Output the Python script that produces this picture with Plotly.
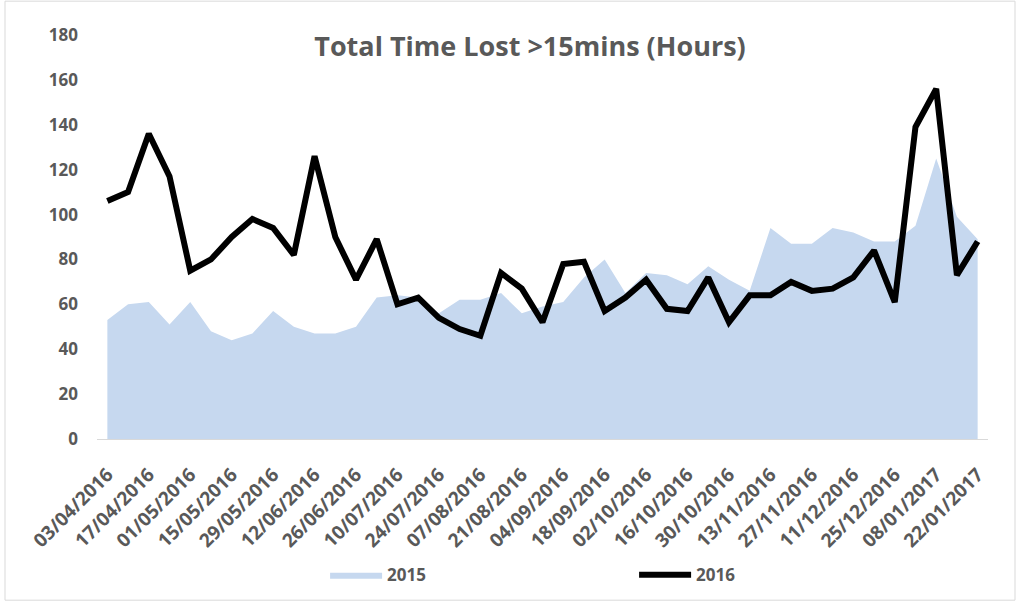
import plotly.graph_objects as go

dates = ["03/04/2016", "10/04/2016", "17/04/2016", "24/04/2016", "01/05/2016", "08/05/2016",
         "15/05/2016", "22/05/2016", "29/05/2016", "05/06/2016", "12/06/2016", "19/06/2016",
         "26/06/2016", "03/07/2016", "10/07/2016", "17/07/2016", "24/07/2016", "31/07/2016",
         "07/08/2016", "14/08/2016", "21/08/2016", "28/08/2016", "04/09/2016", "11/09/2016",
         "18/09/2016", "25/09/2016", "02/10/2016", "09/10/2016", "16/10/2016", "23/10/2016",
         "30/10/2016", "06/11/2016", "13/11/2016", "20/11/2016", "27/11/2016", "04/12/2016",
         "11/12/2016", "18/12/2016", "25/12/2016", "01/01/2017", "08/01/2017", "15/01/2017",
         "22/01/2017"]

tick_labels = dates[::2]

values_2015 = [53, 60, 61, 51, 61, 48, 44, 47, 57, 50, 47, 47, 50, 63, 64, 63, 56, 62,
               62, 65, 56, 59, 61, 72, 80, 65, 74, 73, 69, 77, 71, 66, 94, 87, 87, 94,
               92, 88, 88, 95, 125, 99, 89]

values_2016 = [106, 110, 136, 117, 75, 80, 90, 98, 94, 82, 126, 90, 71, 89, 60, 63, 54,
               49, 46, 74, 67, 52, 78, 79, 57, 63, 71, 58, 57, 72, 52, 64, 64, 70, 66,
               67, 72, 84, 61, 139, 156, 73, 88]

font_family = "'Open Sans', sans-serif"
grey = "#595959"

fig = go.Figure()
fig.add_trace(go.Scatter(
    x=dates, y=values_2015, name="<b>2015</b>", mode="lines",
    fill="tozeroy", fillcolor="#C6D8EF", line=dict(width=0, color="#C6D8EF"),
))
fig.add_trace(go.Scatter(
    x=dates, y=values_2016, name="<b>2016</b>", mode="lines",
    line=dict(width=6, color="#000000"),
))

fig.update_layout(
    width=1017, height=605,
    margin=dict(l=97, r=29, t=35, b=164),
    paper_bgcolor="white", plot_bgcolor="white",
    title=dict(text="<b>Total Time Lost >15mins (Hours)</b>", x=530 / 1017, xref="container",
               xanchor="center", y=1 - 47 / 605, yref="container", yanchor="middle",
               font=dict(family=font_family, size=27, color=grey)),
    font=dict(family=font_family, color=grey),
    showlegend=True,
    legend=dict(orientation="h", x=0.256, xanchor="left", y=-0.337, yanchor="middle",
                font=dict(size=17, color=grey, family=font_family),
                entrywidth=242, entrywidthmode="pixels", itemwidth=52),
    xaxis=dict(type="category", range=[-0.5, 42.5], tickmode="array",
               tickvals=tick_labels, ticktext=["<b>%s</b>" % t for t in tick_labels],
               tickangle=-45, tickfont=dict(size=19, color=grey, family=font_family),
               showgrid=False, showline=True, linecolor="#D9D9D9", linewidth=1,
               ticks="", zeroline=False, automargin=False, ticklabelstandoff=16),
    yaxis=dict(range=[0, 180], tickmode="array", tickvals=list(range(0, 181, 20)),
               ticktext=["<b>%d</b>" % v for v in range(0, 181, 20)],
               tickfont=dict(size=17, color=grey, family=font_family),
               showgrid=False, showline=False, zeroline=False, ticks="",
               ticklabelstandoff=18, automargin=False),
    shapes=[dict(type="rect", xref="paper", yref="paper",
                 x0=(5 - 97) / 891, x1=(1015 - 97) / 891,
                 y0=(441 - 603) / 406, y1=(441 - 1) / 406,
                 line=dict(color="#D9D9D9", width=1), fillcolor="rgba(0,0,0,0)", layer="below")],
)

fig.write_html("out.html", config={"displayModeBar": False},
               post_script="document.body.style.margin='0';")
